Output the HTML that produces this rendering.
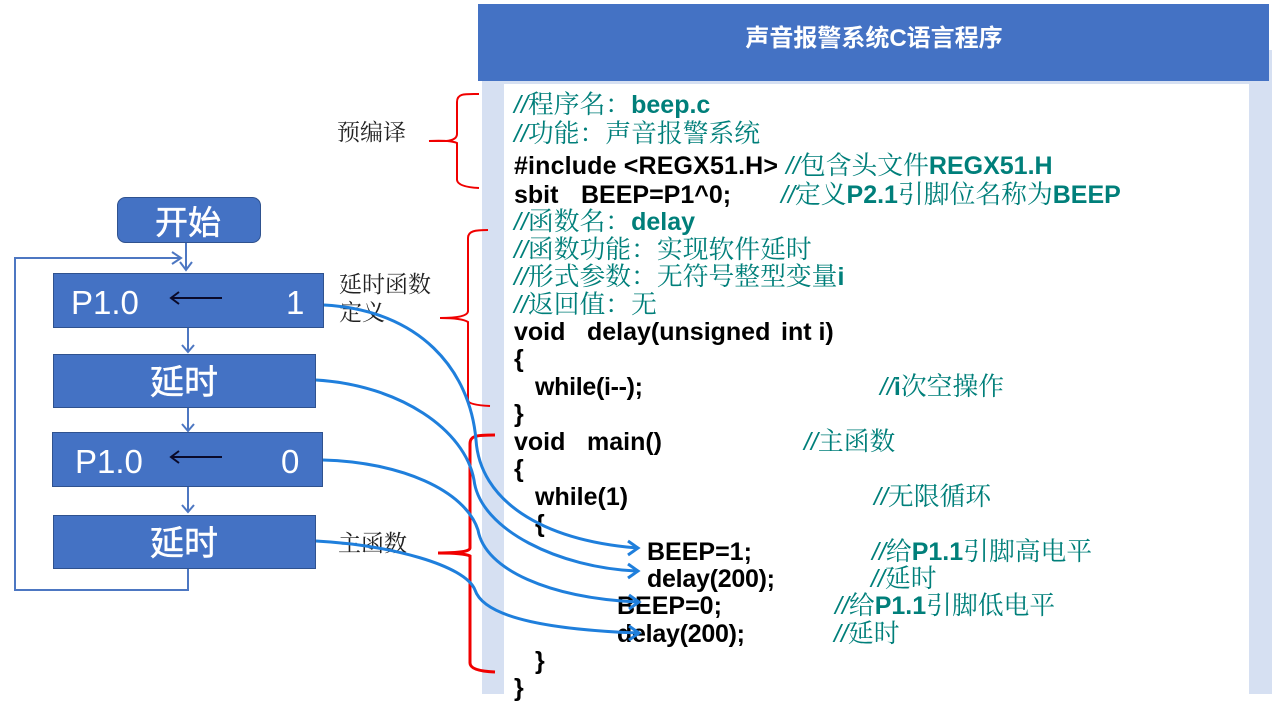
<!DOCTYPE html>
<html><head><meta charset="utf-8"><style>
html,body{margin:0;padding:0;background:#fff;width:1280px;height:720px;overflow:hidden}
svg{display:block}
text{font-family:"Liberation Sans","Noto Serif CJK SC",serif}
.c{font-size:25px;font-weight:bold;fill:#000}
.g{fill:#007f7a;font-weight:bold}
.s{font-weight:normal;font-family:"Noto Serif CJK SC",serif;fill:#007f7a;font-size:25.8px}
.i{font-style:italic;font-weight:normal;fill:#007f7a;font-family:"Liberation Sans",sans-serif}
.l{font-family:"Noto Serif CJK SC",serif;font-size:23px;fill:#222}
.w{fill:#fff;font-family:"Liberation Sans","Noto Sans CJK SC",sans-serif}
.b{fill:#4472c4;stroke:#2f528f;stroke-width:1}
.f{fill:none;stroke:#4d77c2;stroke-width:2}
.a{fill:none;stroke:#1f7fdc;stroke-width:3}
.r{fill:none;stroke:#f00000;stroke-width:2}
</style></head><body>
<svg width="1280" height="720" viewBox="0 0 1280 720" xmlns="http://www.w3.org/2000/svg">
<rect x="482" y="50" width="790" height="644" fill="#d6e0f2"/>
<rect x="504" y="84" width="745" height="616" fill="#fff"/>
<rect x="478" y="4" width="791" height="77" fill="#4472c4"/>
<text x="874" y="46" text-anchor="middle" class="w" font-size="24" font-weight="bold">声音报警系统C语言程序</text>

<text class="c" x="514" y="113"><tspan class="i">//</tspan><tspan class="s">程序名：</tspan><tspan class="g">beep.c</tspan></text>
<text class="c" x="514" y="142"><tspan class="i">//</tspan><tspan class="s">功能：声音报警系统</tspan></text>
<text class="c" x="514" y="174" textLength="264" lengthAdjust="spacing">#include &lt;REGX51.H&gt;</text>
<text class="c" x="786" y="174"><tspan class="i">//</tspan><tspan class="s">包含头文件</tspan><tspan class="g">REGX51.H</tspan></text>
<text class="c" x="514" y="203">sbit</text><text class="c" x="581" y="203">BEEP=P1^0;</text>
<text class="c" x="781" y="203"><tspan class="i">//</tspan><tspan class="s">定义</tspan><tspan class="g">P2.1</tspan><tspan class="s">引脚位名称为</tspan><tspan class="g">BEEP</tspan></text>
<text class="c" x="514" y="230"><tspan class="i">//</tspan><tspan class="s">函数名：</tspan><tspan class="g">delay</tspan></text>
<text class="c" x="514" y="258"><tspan class="i">//</tspan><tspan class="s">函数功能：实现软件延时</tspan></text>
<text class="c" x="514" y="285"><tspan class="i">//</tspan><tspan class="s">形式参数：无符号整型变量</tspan><tspan class="g">i</tspan></text>
<text class="c" x="514" y="313"><tspan class="i">//</tspan><tspan class="s">返回值：无</tspan></text>
<text class="c" x="514" y="340">void</text><text class="c" x="587" y="340">delay(unsigned</text><text class="c" x="781" y="340">int i)</text>
<text class="c" x="514" y="367">{</text>
<text class="c" x="535" y="395" textLength="108" lengthAdjust="spacing">while(i--);</text>
<text class="c" x="880" y="395"><tspan class="i">//</tspan><tspan class="g">i</tspan><tspan class="s">次空操作</tspan></text>
<text class="c" x="514" y="422">}</text>
<text class="c" x="514" y="450">void</text><text class="c" x="587" y="450">main()</text>
<text class="c" x="804" y="450"><tspan class="i">//</tspan><tspan class="s">主函数</tspan></text>
<text class="c" x="514" y="477">{</text>
<text class="c" x="535" y="505">while(1)</text>
<text class="c" x="874" y="505"><tspan class="i">//</tspan><tspan class="s">无限循环</tspan></text>
<text class="c" x="535" y="532">{</text>
<text class="c" x="647" y="560">BEEP=1;</text>
<text class="c" x="872" y="560"><tspan class="i">//</tspan><tspan class="s">给</tspan><tspan class="g">P1.1</tspan><tspan class="s">引脚高电平</tspan></text>
<text class="c" x="647" y="587" textLength="128" lengthAdjust="spacing">delay(200);</text>
<text class="c" x="871" y="587"><tspan class="i">//</tspan><tspan class="s">延时</tspan></text>
<text class="c" x="617" y="614">BEEP=0;</text>
<text class="c" x="835" y="614"><tspan class="i">//</tspan><tspan class="s">给</tspan><tspan class="g">P1.1</tspan><tspan class="s">引脚低电平</tspan></text>
<text class="c" x="617" y="642" textLength="128" lengthAdjust="spacing">delay(200);</text>
<text class="c" x="834" y="642"><tspan class="i">//</tspan><tspan class="s">延时</tspan></text>
<text class="c" x="535" y="669">}</text>
<text class="c" x="514" y="696">}</text>

<text class="l" x="337" y="140">预编译</text>
<text class="l" x="339" y="292">延时函数</text>
<text class="l" x="339" y="320">定义</text>
<text class="l" x="338" y="551">主函数</text>

<!-- flowchart -->
<rect x="117.500" y="197.500" width="143" height="45" rx="8" class="b"/>
<text x="188" y="234" text-anchor="middle" class="w" font-size="33" stroke="#fff" stroke-width="0.5">开始</text>
<rect x="53.500" y="273.500" width="270" height="54" class="b"/>
<text x="71" y="314" class="w" font-size="33">P1.0</text>
<text x="286" y="314" class="w" font-size="33">1</text>
<rect x="53.500" y="354.500" width="262" height="53" class="b"/>
<text x="184" y="394" text-anchor="middle" class="w" font-size="34" stroke="#fff" stroke-width="0.5">延时</text>
<rect x="52.500" y="432.500" width="270" height="54" class="b"/>
<text x="75" y="473" class="w" font-size="33">P1.0</text>
<text x="281" y="473" class="w" font-size="33">0</text>
<rect x="53.500" y="515.500" width="262" height="53" class="b"/>
<text x="184" y="555" text-anchor="middle" class="w" font-size="34" stroke="#fff" stroke-width="0.5">延时</text>

<path class="f" d="M186 243V270M180 262L186 270L192 262"/>
<path class="f" d="M188 328V352M182 345L188 352L194 345"/>
<path class="f" d="M188 408V431M182 424L188 431L194 424"/>
<path class="f" d="M188 487V512M182 505L188 512L194 505"/>
<path class="f" d="M188 569V590H15V258H180M172 252L181 258L172 264"/>
<path fill="none" stroke="#0a0a2a" stroke-width="2" d="M222 298H171M179 292L171 298L179 304"/>
<path fill="none" stroke="#0a0a2a" stroke-width="2" d="M222 457H171M179 451L171 457L179 463"/>

<!-- braces -->
<path class="r" d="M479 94C465 94 457 93 457 102V134Q457 140 446 141H429Q450 140 457 143V180Q458 187 479 188"/>
<path class="r" d="M488 230C475 230 468 231 468 238V311Q468 318 440 318Q462 318 468 322V400Q468 405 490 406"/>
<path d="M495 435C475 435 470 436 470 444V548Q470 553 438 553Q464 553 470 556V663Q470 671 495 672" fill="none" stroke="#f00000" stroke-width="3"/>

<!-- arrows -->
<path class="a" d="M324 305C420 310 470 370 476 440C480 500 540 540 637 548"/>
<path class="a" d="M628 541L638 548L628 555"/>
<path class="a" d="M316 380C400 385 465 430 474 480C480 530 560 568 637 571"/>
<path class="a" d="M628 564L638 571L628 578"/>
<path class="a" d="M323 460C400 462 465 490 478 530C485 570 550 598 638 602"/>
<path class="a" d="M629 595L639 602L629 609"/>
<path class="a" d="M316 541C390 545 465 565 475 590C485 620 560 630 638 633"/>
<path class="a" d="M629 626L639 633L629 640"/>
</svg>
</body></html>
